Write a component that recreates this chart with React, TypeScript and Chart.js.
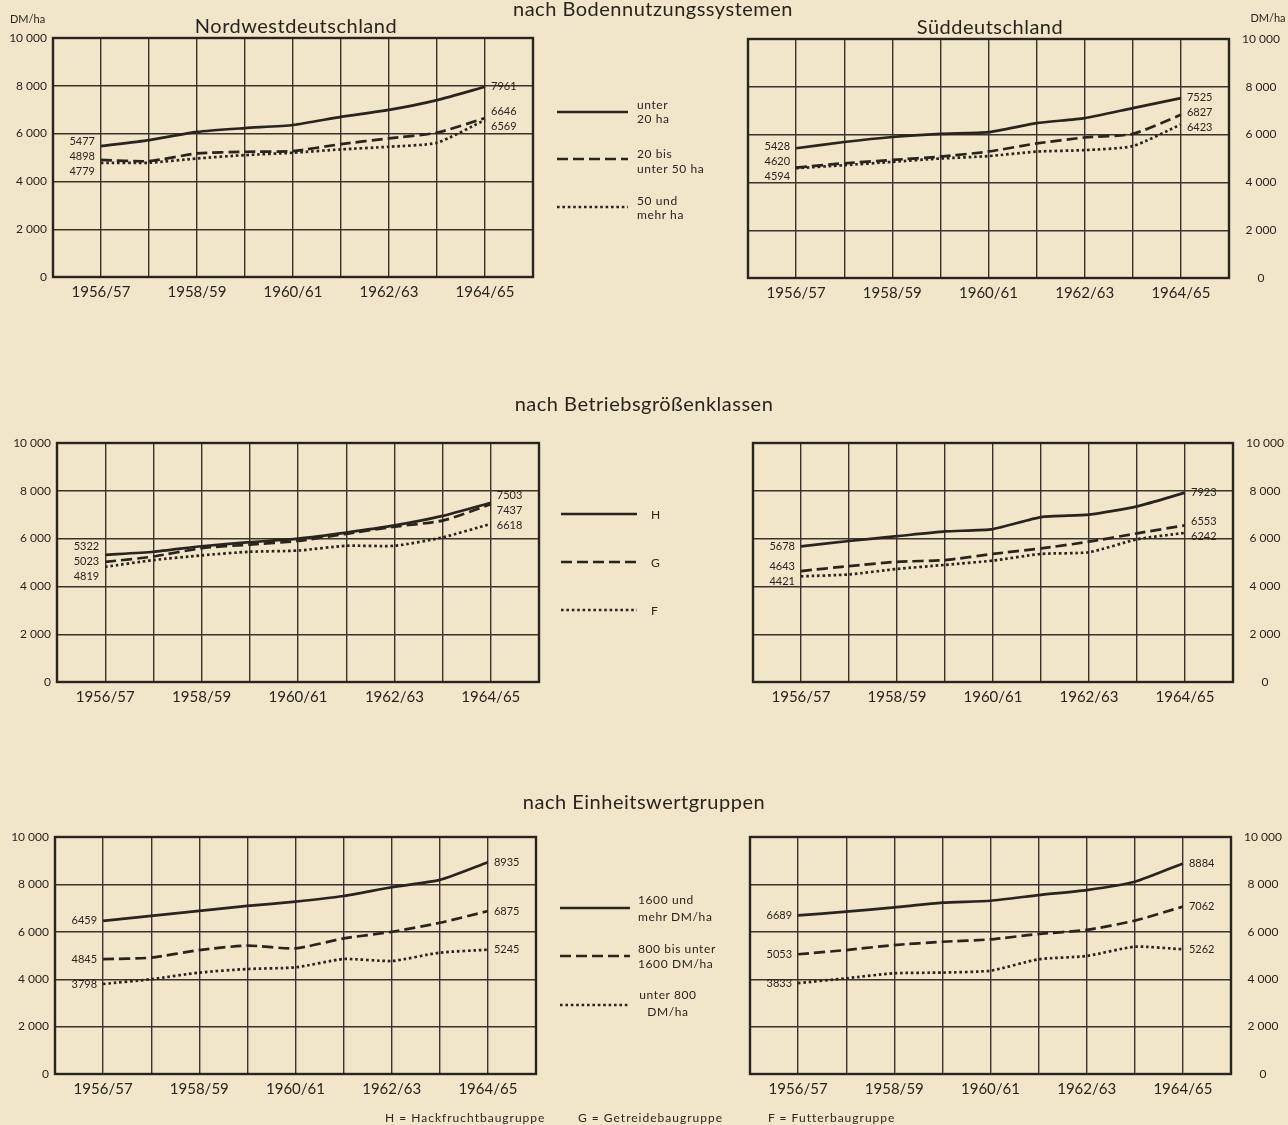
import React, { useEffect, useRef } from "react";
import { Chart, registerables } from "chart.js";

Chart.register(...registerables);

// ---------- data ----------
const years = ["1956/57", "1957/58", "1958/59", "1959/60", "1960/61", "1961/62", "1962/63", "1963/64", "1964/65"];
const xTickLabels = ["1956/57", "1958/59", "1960/61", "1962/63", "1964/65"];
const yTickValues = [0, 2000, 4000, 6000, 8000, 10000];

// nach Bodennutzungssystemen – Nordwestdeutschland
const nwBodenUnter20 = [5477, 5730, 6070, 6230, 6360, 6700, 6990, 7400, 7961];
const nwBoden20bis50 = [4898, 4850, 5170, 5240, 5270, 5560, 5800, 6040, 6646];
const nwBoden50mehr = [4779, 4780, 4960, 5100, 5200, 5340, 5450, 5620, 6569];
// nach Bodennutzungssystemen – Süddeutschland
const sdBodenUnter20 = [5428, 5690, 5900, 6030, 6100, 6480, 6690, 7110, 7525];
const sdBoden20bis50 = [4620, 4800, 4940, 5080, 5290, 5630, 5880, 6030, 6827];
const sdBoden50mehr = [4594, 4720, 4860, 5000, 5100, 5290, 5350, 5520, 6423];
// nach Betriebsgrößenklassen – Nordwestdeutschland
const nwGroesseH = [5322, 5450, 5680, 5850, 6000, 6250, 6550, 6950, 7503];
const nwGroesseG = [5023, 5250, 5600, 5750, 5900, 6200, 6500, 6750, 7437];
const nwGroesseF = [4819, 5100, 5300, 5450, 5500, 5700, 5700, 6050, 6618];
// nach Betriebsgrößenklassen – Süddeutschland
const sdGroesseH = [5678, 5900, 6100, 6300, 6400, 6900, 7000, 7350, 7923];
const sdGroesseG = [4643, 4850, 5030, 5100, 5360, 5590, 5870, 6220, 6553];
const sdGroesseF = [4421, 4500, 4730, 4900, 5080, 5360, 5430, 5970, 6242];
// nach Einheitswertgruppen – Nordwestdeutschland
const nwEinheit1600 = [6459, 6670, 6880, 7090, 7270, 7510, 7880, 8190, 8935];
const nwEinheit800 = [4845, 4910, 5230, 5420, 5300, 5720, 6000, 6380, 6875];
const nwEinheitUnter800 = [3798, 4000, 4280, 4430, 4500, 4850, 4770, 5120, 5245];
// nach Einheitswertgruppen – Süddeutschland
const sdEinheit1600 = [6689, 6850, 7030, 7230, 7310, 7550, 7760, 8110, 8884];
const sdEinheit800 = [5053, 5230, 5440, 5580, 5680, 5910, 6080, 6470, 7062];
const sdEinheitUnter800 = [3833, 4040, 4250, 4280, 4360, 4840, 4980, 5370, 5262];

// ---------- style ----------
const INK = "#2a241f";
const GRID = "#3a322b";
const PAPER = "#f1e6ca";
const FONT = "Lato, 'Open Sans', sans-serif";
const DASHES: number[][] = [[], [11, 5], [2.6, 2.8]];

function fmt(v: number): string {
  if (v < 1000) return String(v);
  const s = String(v);
  return s.slice(0, s.length - 3) + " " + s.slice(s.length - 3);
}

function spread(ys: number[], gap: number): number[] {
  const out = ys.slice();
  const order = out.map((_, i) => i).sort((a, b) => out[a] - out[b]);
  for (let it = 0; it < 80; it++) {
    for (let k = 0; k < order.length - 1; k++) {
      const a = order[k], b = order[k + 1];
      const d = out[b] - out[a];
      if (d < gap) {
        const m = (gap - d) / 2;
        out[a] -= m;
        out[b] += m;
      }
    }
  }
  return out;
}

const decorPlugin = {
  id: "decor",
  afterDatasetsDraw(chart: any) {
    const { ctx, chartArea: a } = chart;
    const xs = chart.scales.x;
    const ys = chart.scales.y;
    ctx.save();
    ctx.strokeStyle = INK;
    ctx.lineWidth = 2.4;
    ctx.setLineDash([]);
    ctx.strokeRect(a.left, a.top, a.right - a.left, a.bottom - a.top);
    ctx.font = `11px ${FONT}`;
    ctx.fillStyle = INK;
    ctx.textBaseline = "middle";
    const ds = chart.data.datasets;
    const firstVals = ds.map((d: any) => d.data[0].y as number);
    const lastVals = ds.map((d: any) => d.data[d.data.length - 1].y as number);
    const firstX = xs.getPixelForValue(0);
    const lastX = xs.getPixelForValue(years.length - 1);
    const fy = spread(firstVals.map((v: number) => ys.getPixelForValue(v)), 15);
    const ly = spread(lastVals.map((v: number) => ys.getPixelForValue(v)), 15);
    ctx.textAlign = "right";
    firstVals.forEach((v: number, i: number) => ctx.fillText(String(v), firstX - 6, fy[i]));
    ctx.textAlign = "left";
    lastVals.forEach((v: number, i: number) => ctx.fillText(String(v), lastX + 6, ly[i]));
    ctx.restore();
  },
};

type PanelProps = {
  plotLeft: number;
  plotTop: number;
  plotRight: number;
  plotBottom: number;
  axis: "left" | "right";
  series: number[][];
};

function Panel({ plotLeft, plotTop, plotRight, plotBottom, axis, series }: PanelProps) {
  const ref = useRef<HTMLCanvasElement>(null);
  const tickPad = axis === "left" ? 6 : 13;
  const padT = 12 + tickPad; // keeps the y-axis label padding from shifting the plot area
  const xAxisH = 34;
  const padSide = 12;
  const yAxisW = axis === "left" ? plotLeft : 56;
  const canvasLeft = axis === "left" ? 0 : plotLeft - padSide;
  const width = axis === "left" ? plotRight + padSide : padSide + (plotRight - plotLeft) + yAxisW;
  const height = padT + (plotBottom - plotTop) + xAxisH;
  const top = plotTop - padT;

  useEffect(() => {
    const chart = new Chart(ref.current as HTMLCanvasElement, {
      type: "line",
      data: {
        datasets: series.map((s, k) => ({
          data: s.map((v, i) => ({ x: i, y: v })),
          borderColor: INK,
          borderWidth: 2.7,
          borderDash: DASHES[k],
          borderCapStyle: "butt",
          pointRadius: 0,
          tension: 0.2,
          fill: false,
        })),
      },
      options: {
        animation: false,
        responsive: false,
        devicePixelRatio: 1,
        layout: {
          padding:
            axis === "left"
              ? { top: padT, right: padSide, left: 0, bottom: 0 }
              : { top: padT, left: padSide, right: 0, bottom: 0 },
        },
        plugins: { legend: { display: false }, tooltip: { enabled: false } },
        scales: {
          x: {
            type: "linear",
            min: -1,
            max: years.length,
            afterFit: (s: any) => {
              s.height = xAxisH;
            },
            ticks: {
              stepSize: 1,
              autoSkip: false,
              maxRotation: 0,
              padding: 6,
              color: INK,
              font: { family: FONT, size: 15 },
              callback: (v: any) => {
                const i = Math.round(Number(v));
                const y = years[i];
                return y && xTickLabels.includes(y) ? y : "";
              },
            },
            grid: { color: GRID, lineWidth: 1.4, drawTicks: false },
            border: { display: false },
          },
          y: {
            position: axis,
            min: 0,
            max: 10000,
            afterFit: (s: any) => {
              s.width = yAxisW;
            },
            afterBuildTicks: (s: any) => {
              s.ticks = yTickValues.map((v) => ({ value: v }));
            },
            ticks: {
              padding: tickPad,
              crossAlign: axis === "left" ? "near" : "center",
              color: INK,
              font: { family: FONT, size: 12 },
              callback: (v: any) => fmt(Number(v)),
            },
            grid: { color: GRID, lineWidth: 1.4, drawTicks: false },
            border: { display: false },
          },
        },
      },
      plugins: [decorPlugin],
    } as any);
    return () => chart.destroy();
  }, []);

  return (
    <canvas
      ref={ref}
      width={width}
      height={height}
      style={{ position: "absolute", left: canvasLeft, top, width, height }}
    />
  );
}

function LegendLine({ x1, x2, y, k }: { x1: number; x2: number; y: number; k: number }) {
  return (
    <line
      x1={x1}
      x2={x2}
      y1={y}
      y2={y}
      stroke={INK}
      strokeWidth={2.7}
      strokeDasharray={DASHES[k].length ? DASHES[k].join(" ") : undefined}
    />
  );
}

export default function App() {
  useEffect(() => {
    document.body.style.margin = "0";
    document.body.style.background = PAPER;
  }, []);
  const t = { fill: INK, fontFamily: FONT } as const;
  const lg = { ...t, fontSize: 12, letterSpacing: 0.6, dominantBaseline: "central" } as const;
  const ttl = { ...t, fontSize: 20, letterSpacing: 0.5, textAnchor: "middle", dominantBaseline: "central" } as const;
  const fn = { ...t, fontSize: 12, letterSpacing: 1, dominantBaseline: "central" } as const;
  return (
    <div style={{ position: "relative", width: 1288, height: 1125, background: PAPER, overflow: "hidden" }}>
      <Panel plotLeft={53} plotTop={38} plotRight={533} plotBottom={277} axis="left"
        series={[nwBodenUnter20, nwBoden20bis50, nwBoden50mehr]} />
      <Panel plotLeft={748} plotTop={39} plotRight={1229} plotBottom={278} axis="right"
        series={[sdBodenUnter20, sdBoden20bis50, sdBoden50mehr]} />
      <Panel plotLeft={57} plotTop={443} plotRight={539} plotBottom={682} axis="left"
        series={[nwGroesseH, nwGroesseG, nwGroesseF]} />
      <Panel plotLeft={753} plotTop={443} plotRight={1233} plotBottom={682} axis="right"
        series={[sdGroesseH, sdGroesseG, sdGroesseF]} />
      <Panel plotLeft={55} plotTop={837} plotRight={536} plotBottom={1074} axis="left"
        series={[nwEinheit1600, nwEinheit800, nwEinheitUnter800]} />
      <Panel plotLeft={750} plotTop={837} plotRight={1231} plotBottom={1074} axis="right"
        series={[sdEinheit1600, sdEinheit800, sdEinheitUnter800]} />

      <svg width={1288} height={1125} style={{ position: "absolute", left: 0, top: 0, pointerEvents: "none" }}>
        {/* section titles */}
        <text x={653} y={8} {...ttl}>nach Bodennutzungssystemen</text>
        <text x={644} y={403} {...ttl}>nach Betriebsgrößenklassen</text>
        <text x={644} y={801} {...ttl}>nach Einheitswertgruppen</text>

        {/* panel titles / units */}
        <text x={296} y={25} {...ttl}>Nordwestdeutschland</text>
        <text x={990} y={26} {...ttl}>Süddeutschland</text>
        <text x={10} y={18} dominantBaseline="central" fontSize={11} {...t}>DM/ha</text>
        <text x={1268} y={17} textAnchor="middle" dominantBaseline="central" fontSize={11} {...t}>DM/ha</text>

        {/* legend 1 */}
        <LegendLine x1={557} x2={628} y={112} k={0} />
        <LegendLine x1={557} x2={628} y={159} k={1} />
        <LegendLine x1={557} x2={628} y={207} k={2} />
        <text x={637} y={104} {...lg}>unter</text>
        <text x={637} y={118} {...lg}>20 ha</text>
        <text x={637} y={153} {...lg}>20 bis</text>
        <text x={637} y={168} {...lg}>unter 50 ha</text>
        <text x={637} y={200} {...lg}>50 und</text>
        <text x={637} y={214} {...lg}>mehr ha</text>

        {/* legend 2 */}
        <LegendLine x1={561} x2={637} y={514} k={0} />
        <LegendLine x1={561} x2={637} y={562} k={1} />
        <LegendLine x1={561} x2={637} y={610} k={2} />
        <text x={651} y={514} {...lg}>H</text>
        <text x={651} y={562} {...lg}>G</text>
        <text x={651} y={610} {...lg}>F</text>

        {/* legend 3 */}
        <LegendLine x1={560} x2={630} y={908} k={0} />
        <LegendLine x1={560} x2={630} y={956} k={1} />
        <LegendLine x1={560} x2={630} y={1005} k={2} />
        <text x={638} y={899} {...lg}>1600 und</text>
        <text x={638} y={916} {...lg}>mehr DM/ha</text>
        <text x={638} y={948} {...lg}>800 bis unter</text>
        <text x={638} y={963} {...lg}>1600 DM/ha</text>
        <text x={668} y={994} {...lg} textAnchor="middle">unter 800</text>
        <text x={668} y={1011} {...lg} textAnchor="middle">DM/ha</text>

        {/* footnote */}
        <text x={385} y={1117} {...fn}>H = Hackfruchtbaugruppe</text>
        <text x={578} y={1117} {...fn}>G = Getreidebaugruppe</text>
        <text x={768} y={1117} {...fn}>F = Futterbaugruppe</text>
      </svg>
    </div>
  );
}
